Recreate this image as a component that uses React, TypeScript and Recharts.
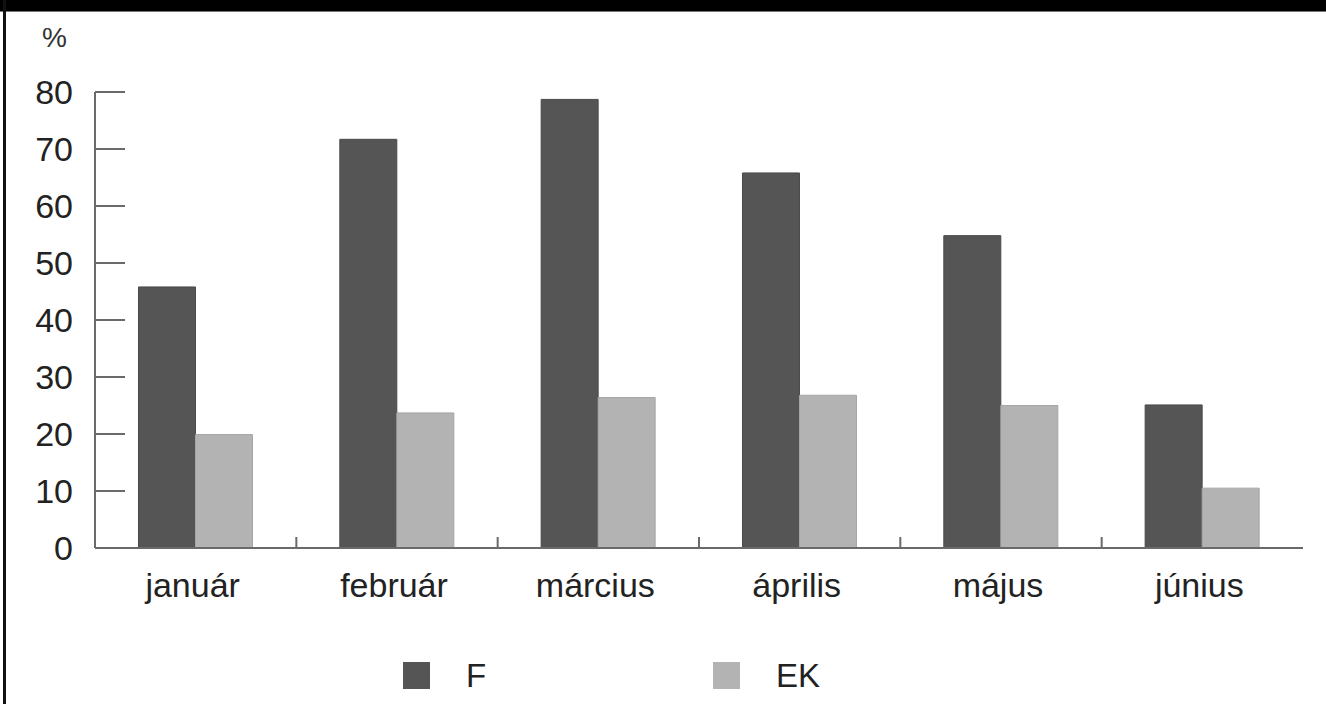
import { Bar, BarChart, Legend, XAxis, YAxis } from "recharts";

const MONTHS = ["január", "február", "március", "április", "május", "június"];
const F_VALUES = [45.8, 71.7, 78.7, 65.8, 54.8, 25.1];
const EK_VALUES = [19.9, 23.7, 26.4, 26.8, 25.0, 10.5];
const Y_TICKS = [0, 10, 20, 30, 40, 50, 60, 70, 80];

const SERIES = [
  { key: "F", color: "#555555", edge: "#4a4a4a", legendX: 403 },
  { key: "EK", color: "#b3b3b3", edge: "#a5a5a5", legendX: 713 },
];

const W = 1326;
const H = 704;
const LEGEND_H = 40;
const X_AXIS_H = 60;
// plot spans y 92..548 once the legend strip is taken out
const MARGIN = { top: 92, right: 23, bottom: H - 548 - X_AXIS_H - LEGEND_H, left: 0 };
const Y_AXIS_W = 95;
const PLOT_W = W - MARGIN.left - MARGIN.right - Y_AXIS_W;
const BAND = PLOT_W / MONTHS.length;
const AXIS_COLOR = "#6a6a6a";
const FONT = "'Liberation Sans', Arial, sans-serif";
const X_LABEL_MARGIN = 49;

const data = MONTHS.map((m, i) => ({ month: m, F: F_VALUES[i], EK: EK_VALUES[i] }));

// month label plus a short upward tick on the boundary left of each category
function MonthTick(props: any) {
  const { x, y, payload, index } = props;
  const axisY = y - X_LABEL_MARGIN;
  return (
    <g>
      {index > 0 && (
        <line
          x1={x - BAND / 2}
          x2={x - BAND / 2}
          y1={axisY}
          y2={axisY - 11}
          stroke={AXIS_COLOR}
          strokeWidth={2}
        />
      )}
      <text x={x - 3} y={y} textAnchor="middle" fontSize={34} fill="#222" fontFamily={FONT}>
        {payload.value}
      </text>
    </g>
  );
}

function LegendBox(props: any) {
  const items = props.payload || [];
  return (
    <div style={{ position: "relative", width: W, height: LEGEND_H, fontFamily: FONT }}>
      {items.map((it: any) => {
        const s = SERIES.find((d) => d.key === it.dataKey)!;
        return (
          <div
            key={s.key}
            style={{ position: "absolute", left: s.legendX, top: 0, display: "flex", alignItems: "center" }}
          >
            <span style={{ width: 27, height: 27, background: s.color, display: "inline-block" }} />
            <span style={{ marginLeft: 36, fontSize: 33, color: "#222", lineHeight: "27px" }}>{s.key}</span>
          </div>
        );
      })}
    </div>
  );
}

export default function App() {
  return (
    <div
      style={{
        position: "absolute",
        left: 0,
        top: 0,
        width: W,
        height: H,
        background: "#fff",
        overflow: "hidden",
        fontFamily: FONT,
      }}
    >
      <div style={{ position: "absolute", left: 0, top: 0, width: W, height: 11, background: "#000", borderBottom: "1px solid #777" }} />
      <div style={{ position: "absolute", left: 3, top: 0, width: 3, height: H, background: "#111" }} />
      <div style={{ position: "absolute", left: 42, top: 22, fontSize: 28, color: "#333" }}>%</div>
      <BarChart width={W} height={H} data={data} margin={MARGIN} barGap={0} barCategoryGap="21.6%">
        <XAxis
          dataKey="month"
          height={X_AXIS_H}
          axisLine={{ stroke: AXIS_COLOR, strokeWidth: 2 }}
          tickLine={false}
          tickSize={0}
          tickMargin={X_LABEL_MARGIN}
          tick={<MonthTick />}
          interval={0}
        />
        <YAxis
          width={Y_AXIS_W}
          domain={[0, 80]}
          ticks={Y_TICKS}
          interval={0}
          axisLine={{ stroke: AXIS_COLOR, strokeWidth: 2 }}
          tickLine={{ stroke: AXIS_COLOR, strokeWidth: 2 }}
          tickSize={-30}
          tickMargin={52}
          tick={{ fontSize: 34, fill: "#222", fontFamily: FONT }}
        />
        <Legend
          verticalAlign="bottom"
          height={LEGEND_H}
          wrapperStyle={{ left: 0, top: 662, width: W }}
          content={<LegendBox />}
        />
        {SERIES.map((s) => (
          <Bar
            key={s.key}
            dataKey={s.key}
            fill={s.color}
            stroke={s.edge}
            strokeWidth={1}
            isAnimationActive={false}
          />
        ))}
      </BarChart>
    </div>
  );
}
